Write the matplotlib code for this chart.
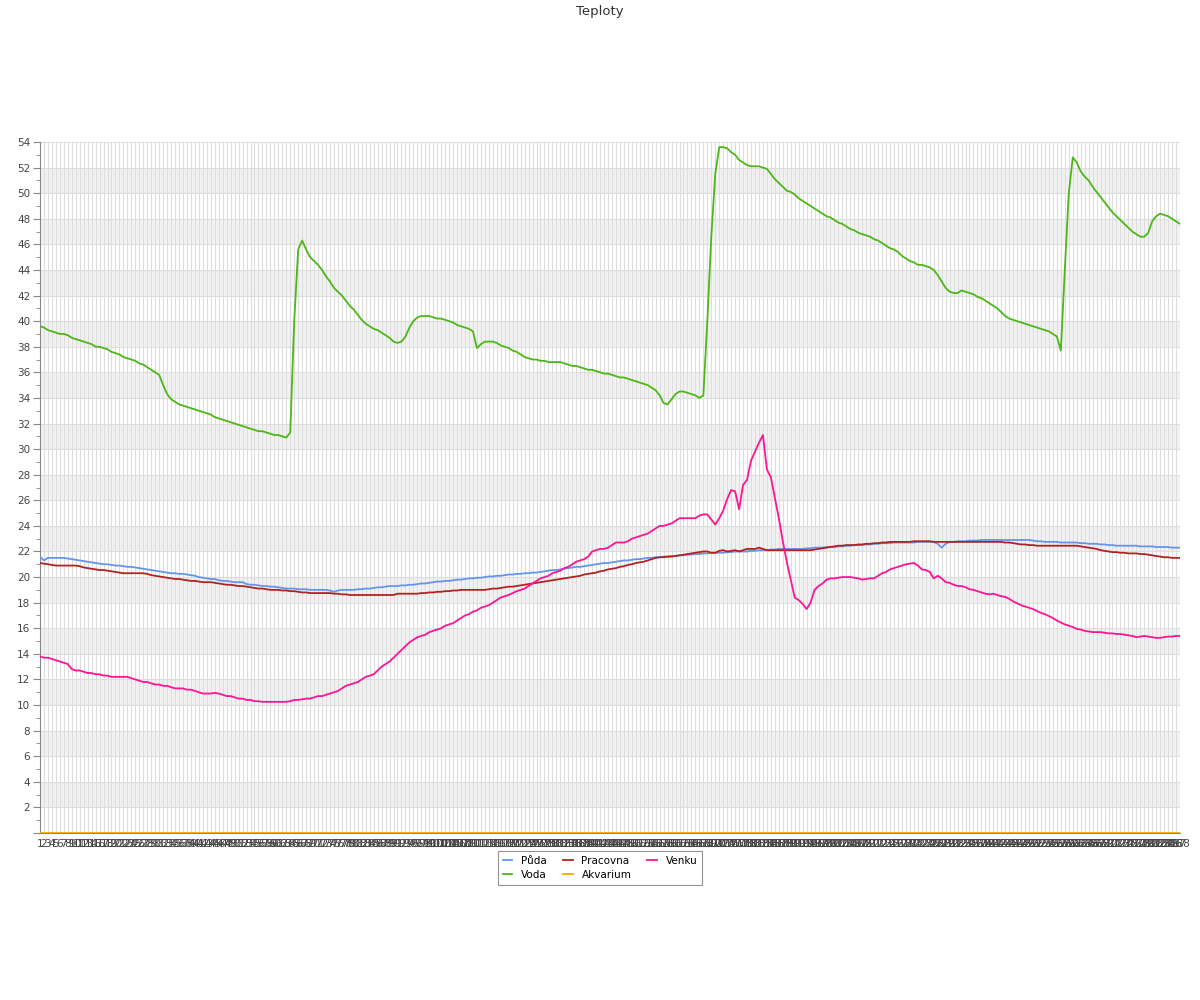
import matplotlib
matplotlib.use('Agg')
import matplotlib.pyplot as plt

# Teploty - 288 measurements (5 min step)
pocet = 288
body = list(range(1, pocet + 1))
popisky = [str(i) for i in body]

puda = [
    21.6, 21.3, 21.5, 21.5, 21.5, 21.5, 21.5, 21.45, 21.4, 21.35,
    21.3, 21.25, 21.2, 21.15, 21.1, 21.05, 21.0, 21.0, 20.95, 20.9,
    20.9, 20.85, 20.8, 20.8, 20.75, 20.7, 20.65, 20.6, 20.55, 20.5,
    20.45, 20.4, 20.35, 20.3, 20.3, 20.25, 20.25, 20.2, 20.15, 20.1,
    20.0, 19.95, 19.9, 19.85, 19.85, 19.75, 19.7, 19.7, 19.65, 19.6,
    19.6, 19.6, 19.45, 19.4, 19.4, 19.35, 19.3, 19.3, 19.25, 19.25,
    19.2, 19.15, 19.1, 19.1, 19.1, 19.05, 19.05, 19.05, 19.0, 19.0,
    19.0, 19.0, 19.0, 18.95, 18.85, 18.95, 19.0, 19.0, 19.0, 19.0,
    19.05, 19.05, 19.1, 19.1, 19.15, 19.2, 19.2, 19.25, 19.3, 19.3,
    19.3, 19.35, 19.35, 19.4, 19.4, 19.45, 19.5, 19.5, 19.55, 19.6,
    19.65, 19.65, 19.7, 19.7, 19.75, 19.8, 19.8, 19.85, 19.9, 19.9,
    19.95, 19.95, 20.0, 20.05, 20.05, 20.1, 20.1, 20.15, 20.2, 20.2,
    20.25, 20.25, 20.3, 20.3, 20.35, 20.35, 20.4, 20.45, 20.5, 20.55,
    20.55, 20.6, 20.65, 20.7, 20.75, 20.8, 20.8, 20.85, 20.9, 20.95,
    21.0, 21.05, 21.1, 21.1, 21.15, 21.2, 21.25, 21.3, 21.3, 21.35,
    21.4, 21.4, 21.45, 21.5, 21.5, 21.55, 21.55, 21.6, 21.6, 21.65,
    21.65, 21.7, 21.7, 21.75, 21.75, 21.8, 21.8, 21.85, 21.85, 21.9,
    21.9, 21.9, 21.9, 21.95, 21.95, 22.0, 22.0, 22.0, 22.0, 22.05,
    22.05, 22.1, 22.1, 22.1, 22.15, 22.15, 22.2, 22.2, 22.2, 22.2,
    22.2, 22.2, 22.2, 22.25, 22.25, 22.3, 22.3, 22.3, 22.35, 22.35,
    22.35, 22.4, 22.4, 22.45, 22.45, 22.5, 22.5, 22.5, 22.55, 22.55,
    22.6, 22.6, 22.65, 22.65, 22.65, 22.7, 22.7, 22.7, 22.7, 22.7,
    22.7, 22.75, 22.75, 22.75, 22.75, 22.75, 22.6, 22.3, 22.6, 22.75,
    22.75, 22.8, 22.8, 22.8, 22.85, 22.85, 22.85, 22.9, 22.9, 22.9,
    22.9, 22.9, 22.9, 22.9, 22.9, 22.9, 22.9, 22.9, 22.9, 22.9,
    22.85, 22.8, 22.8, 22.75, 22.75, 22.75, 22.75, 22.7, 22.7, 22.7,
    22.7, 22.7, 22.65, 22.65, 22.6, 22.6, 22.6, 22.55, 22.55, 22.5,
    22.5, 22.45, 22.45, 22.45, 22.45, 22.45, 22.45, 22.4, 22.4, 22.4,
    22.4, 22.35, 22.35, 22.35, 22.35, 22.3, 22.3, 22.3,
]

voda = [
    39.6, 39.5, 39.3, 39.2, 39.1, 39.0, 39.0, 38.9, 38.7, 38.6,
    38.5, 38.4, 38.3, 38.2, 38.0, 38.0, 37.9, 37.8, 37.6, 37.5,
    37.4, 37.2, 37.1, 37.0, 36.9, 36.7, 36.6, 36.4, 36.2, 36.0,
    35.8, 35.0, 34.3, 33.9, 33.7, 33.5, 33.4, 33.3, 33.2, 33.1,
    33.0, 32.9, 32.8, 32.7, 32.5, 32.4, 32.3, 32.2, 32.1, 32.0,
    31.9, 31.8, 31.7, 31.6, 31.5, 31.4, 31.4, 31.3, 31.2, 31.1,
    31.1, 31.0, 30.9, 31.3, 40.0, 45.6, 46.3, 45.6, 45.0, 44.7,
    44.4, 44.0, 43.5, 43.1, 42.6, 42.3, 42.0, 41.6, 41.2, 40.9,
    40.5, 40.1, 39.8, 39.6, 39.4, 39.3, 39.1, 38.9, 38.7, 38.4,
    38.3, 38.4, 38.8, 39.5, 40.0, 40.3, 40.4, 40.4, 40.4, 40.3,
    40.2, 40.2, 40.1, 40.0, 39.9, 39.7, 39.6, 39.5, 39.4, 39.2,
    37.9, 38.2, 38.4, 38.4, 38.4, 38.3, 38.1, 38.0, 37.9, 37.7,
    37.6, 37.4, 37.2, 37.1, 37.0, 37.0, 36.9, 36.9, 36.8, 36.8,
    36.8, 36.8, 36.7, 36.6, 36.5, 36.5, 36.4, 36.3, 36.2, 36.2,
    36.1, 36.0, 35.9, 35.9, 35.8, 35.7, 35.6, 35.6, 35.5, 35.4,
    35.3, 35.2, 35.1, 35.0, 34.8, 34.6, 34.2, 33.6, 33.5, 33.9,
    34.3, 34.5, 34.5, 34.4, 34.3, 34.2, 34.0, 34.2, 40.0, 46.6,
    51.5, 53.6, 53.6, 53.5, 53.2, 53.0, 52.6, 52.4, 52.2, 52.1,
    52.1, 52.1, 52.0, 51.9, 51.5, 51.1, 50.8, 50.5, 50.2, 50.1,
    49.9, 49.6, 49.4, 49.2, 49.0, 48.8, 48.6, 48.4, 48.2, 48.1,
    47.9, 47.7, 47.6, 47.4, 47.2, 47.1, 46.9, 46.8, 46.7, 46.6,
    46.4, 46.3, 46.1, 45.9, 45.7, 45.6, 45.4, 45.1, 44.9, 44.7,
    44.6, 44.4, 44.4, 44.3, 44.2, 44.0, 43.6, 43.1, 42.6, 42.3,
    42.2, 42.2, 42.4, 42.3, 42.2, 42.1, 41.9, 41.8, 41.6, 41.4,
    41.2, 41.0, 40.7, 40.4, 40.2, 40.1, 40.0, 39.9, 39.8, 39.7,
    39.6, 39.5, 39.4, 39.3, 39.2, 39.0, 38.8, 37.7, 44.0, 50.0,
    52.8, 52.4, 51.7, 51.3, 51.0, 50.5, 50.1, 49.7, 49.3, 48.9,
    48.5, 48.2, 47.9, 47.6, 47.3, 47.0, 46.8, 46.6, 46.6, 46.9,
    47.8, 48.2, 48.4, 48.3, 48.2, 48.0, 47.8, 47.6,
]

pracovna = [
    21.1, 21.05, 21.0, 20.95, 20.9, 20.9, 20.9, 20.9, 20.9, 20.9,
    20.85, 20.75, 20.7, 20.65, 20.6, 20.55, 20.55, 20.5, 20.45, 20.4,
    20.35, 20.3, 20.3, 20.3, 20.3, 20.3, 20.3, 20.25, 20.15, 20.1,
    20.05, 20.0, 19.95, 19.9, 19.85, 19.85, 19.8, 19.75, 19.7, 19.7,
    19.65, 19.6, 19.6, 19.6, 19.55, 19.5, 19.45, 19.4, 19.4, 19.35,
    19.3, 19.3, 19.25, 19.2, 19.15, 19.1, 19.1, 19.05, 19.0, 19.0,
    19.0, 18.95, 18.95, 18.9, 18.9, 18.85, 18.8, 18.8, 18.75, 18.75,
    18.75, 18.75, 18.75, 18.75, 18.7, 18.7, 18.65, 18.65, 18.6, 18.6,
    18.6, 18.6, 18.6, 18.6, 18.6, 18.6, 18.6, 18.6, 18.6, 18.6,
    18.7, 18.7, 18.7, 18.7, 18.7, 18.7, 18.75, 18.75, 18.8, 18.8,
    18.85, 18.85, 18.9, 18.9, 18.95, 18.95, 19.0, 19.0, 19.0, 19.0,
    19.0, 19.0, 19.0, 19.05, 19.1, 19.1, 19.15, 19.2, 19.25, 19.25,
    19.3, 19.35, 19.4, 19.45, 19.5, 19.55, 19.6, 19.65, 19.7, 19.75,
    19.8, 19.85, 19.9, 19.95, 20.0, 20.05, 20.1, 20.2, 20.25, 20.3,
    20.35, 20.45, 20.5, 20.6, 20.65, 20.7, 20.8, 20.85, 20.95, 21.0,
    21.1, 21.15, 21.2, 21.3, 21.4, 21.5, 21.55, 21.55, 21.6, 21.6,
    21.65, 21.7, 21.75, 21.8, 21.85, 21.9, 21.95, 22.0, 22.0, 21.9,
    21.9, 22.05, 22.1, 22.0, 22.05, 22.1, 22.0, 22.1, 22.2, 22.2,
    22.2, 22.3, 22.2, 22.1, 22.1, 22.1, 22.1, 22.1, 22.1, 22.1,
    22.1, 22.1, 22.1, 22.1, 22.1, 22.15, 22.2, 22.25, 22.3, 22.35,
    22.4, 22.45, 22.45, 22.5, 22.5, 22.5, 22.55, 22.55, 22.6, 22.6,
    22.65, 22.65, 22.7, 22.7, 22.75, 22.75, 22.75, 22.75, 22.75, 22.75,
    22.8, 22.8, 22.8, 22.8, 22.8, 22.75, 22.75, 22.75, 22.75, 22.75,
    22.75, 22.75, 22.75, 22.75, 22.75, 22.75, 22.75, 22.75, 22.75, 22.75,
    22.75, 22.75, 22.75, 22.7, 22.7, 22.65, 22.6, 22.55, 22.55, 22.5,
    22.5, 22.45, 22.45, 22.45, 22.45, 22.45, 22.45, 22.45, 22.45, 22.45,
    22.45, 22.45, 22.4, 22.35, 22.3, 22.25, 22.2, 22.1, 22.05, 22.0,
    21.95, 21.95, 21.9, 21.9, 21.85, 21.85, 21.85, 21.8, 21.8, 21.75,
    21.7, 21.65, 21.6, 21.55, 21.55, 21.5, 21.5, 21.5,
]

akvarium = [0.0] * pocet

venku = [
    13.8, 13.7, 13.7, 13.6, 13.5, 13.4, 13.3, 13.2, 12.8, 12.7,
    12.7, 12.6, 12.5, 12.5, 12.4, 12.4, 12.3, 12.3, 12.2, 12.2,
    12.2, 12.2, 12.2, 12.1, 12.0, 11.9, 11.8, 11.8, 11.7, 11.6,
    11.6, 11.5, 11.5, 11.4, 11.3, 11.3, 11.3, 11.2, 11.2, 11.1,
    11.0, 10.9, 10.9, 10.9, 10.95, 10.9, 10.8, 10.7, 10.7, 10.6,
    10.5, 10.5, 10.4, 10.4, 10.3, 10.3, 10.25, 10.25, 10.25, 10.25,
    10.25, 10.25, 10.25, 10.3, 10.4, 10.4, 10.45, 10.5, 10.5, 10.6,
    10.7, 10.7, 10.8, 10.9, 11.0, 11.1, 11.3, 11.5, 11.6, 11.7,
    11.8, 12.0, 12.2, 12.3, 12.4, 12.7, 13.0, 13.2, 13.4, 13.7,
    14.0, 14.3, 14.6, 14.9, 15.1, 15.3, 15.4, 15.5, 15.7, 15.8,
    15.9, 16.0, 16.2, 16.3, 16.4, 16.6, 16.8, 17.0, 17.1, 17.3,
    17.4, 17.6, 17.7, 17.8, 18.0, 18.2, 18.4, 18.5, 18.6, 18.75,
    18.9, 19.0, 19.1, 19.3, 19.5, 19.7, 19.9, 20.0, 20.1, 20.3,
    20.4, 20.5, 20.7, 20.8, 21.0, 21.2, 21.3, 21.4, 21.6, 22.0,
    22.1, 22.2, 22.2, 22.3, 22.5, 22.7, 22.7, 22.7, 22.8, 23.0,
    23.1, 23.2, 23.3, 23.4, 23.6, 23.8, 24.0, 24.0, 24.1, 24.2,
    24.4, 24.6, 24.6, 24.6, 24.6, 24.6, 24.8, 24.9, 24.9, 24.5,
    24.1, 24.6, 25.2, 26.1, 26.8, 26.7, 25.3, 27.2, 27.6, 29.1,
    29.8, 30.5, 31.1, 28.4, 27.8, 26.2, 24.6, 22.8, 21.2, 19.8,
    18.4, 18.2, 17.9, 17.5, 18.0, 19.0, 19.3, 19.5, 19.8, 19.9,
    19.9, 19.95, 20.0, 20.0, 20.0, 19.95, 19.9, 19.8, 19.85, 19.9,
    19.9, 20.1, 20.3, 20.4, 20.6, 20.7, 20.8, 20.9, 21.0, 21.05,
    21.1, 20.9, 20.6, 20.55, 20.4, 19.9, 20.1, 19.9, 19.6, 19.55,
    19.4, 19.3, 19.3, 19.2, 19.05, 19.0, 18.9, 18.8, 18.7, 18.65,
    18.7, 18.6, 18.5, 18.45, 18.3, 18.1, 17.95, 17.8, 17.7, 17.6,
    17.5, 17.35, 17.2, 17.1, 16.95, 16.8, 16.6, 16.45, 16.3, 16.2,
    16.1, 15.95, 15.9, 15.8, 15.75, 15.7, 15.7, 15.7, 15.65, 15.6,
    15.6, 15.55, 15.55, 15.5, 15.45, 15.4, 15.3, 15.35, 15.4, 15.35,
    15.3, 15.25, 15.25, 15.3, 15.35, 15.35, 15.4, 15.4,
]

serie = [
    ('Půda', puda, '#6495ed'),
    ('Voda', voda, '#4db717'),
    ('Pracovna', pracovna, '#b22222'),
    ('Akvarium', akvarium, '#ffa500'),
    ('Venku', venku, '#ff1493'),
]

fig = plt.figure(figsize=(12, 10), dpi=100)
ax = fig.add_axes([40 / 1200, 1 - 833 / 1000, 1140 / 1200, 691 / 1000])

# grey bands every other 2 degrees
for lo in range(2, 54, 4):
    ax.axhspan(lo, lo + 2, color='#f2f2f2', zorder=0, lw=0)

for nazev, data, barva in serie:
    ax.plot(body, data, color=barva, lw=1.3, label=nazev, zorder=3)

ax.set_xlim(1, pocet)
ax.set_ylim(0, 54)

ax.set_xticks(body)
ax.set_xticklabels(popisky, fontsize=7.5, color='#444444')
ax.tick_params(axis='x', length=0, pad=4)
ax.xaxis.grid(True, color='#dddddd', lw=0.8, zorder=1)

ax.set_yticks(range(0, 55, 2))
ax.set_yticklabels([''] + [str(v) for v in range(2, 55, 2)], fontsize=7.5, color='#444444')
ax.set_yticks(range(1, 55, 2), minor=True)
ax.tick_params(axis='y', which='major', length=5, color='#888888', pad=2)
ax.tick_params(axis='y', which='minor', length=3, color='#888888')
ax.yaxis.grid(True, which='major', color='#dddddd', lw=0.8, zorder=1)
ax.set_axisbelow(True)

for s in ['top', 'right']:
    ax.spines[s].set_visible(False)
ax.spines['left'].set_color('#888888')
ax.spines['bottom'].set_color('#888888')

fig.text(0.5, 1 - 11 / 1000, 'Teploty', ha='center', va='center', fontsize=9.5, color='#333333')

leg = fig.legend(loc='upper center', bbox_to_anchor=(0.5, 1 - 851 / 1000), ncol=3,
                 fontsize=7.5, frameon=True, fancybox=False, handlelength=0.95,
                 handletextpad=0.85, columnspacing=1.5, borderpad=0.45,
                 labelspacing=0.4, borderaxespad=0)
leg.get_frame().set_edgecolor('#777777')
leg.get_frame().set_linewidth(0.8)

fig.savefig('out.png')
